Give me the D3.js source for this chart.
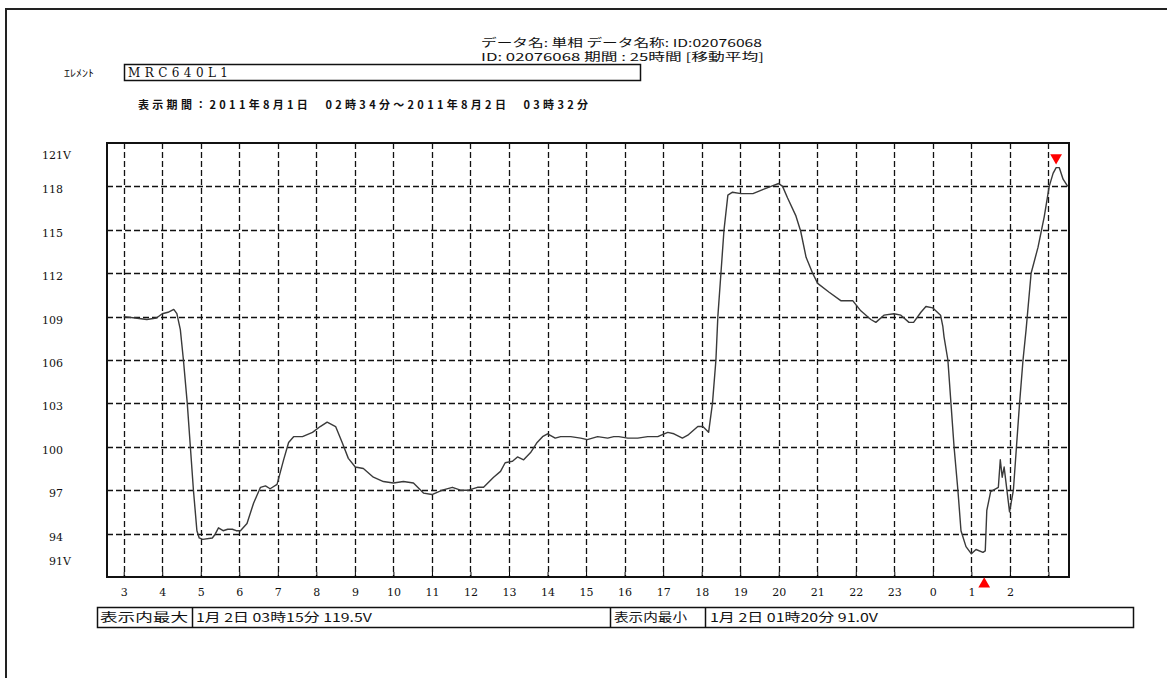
<!DOCTYPE html>
<html>
<head>
<meta charset="utf-8">
<script src="https://cdn.jsdelivr.net/npm/d3@7"></script>
<style>
  body { margin: 0; background: #fff; }
  svg text { fill: #111; }
  .jp { font-family: "Noto Sans CJK JP", sans-serif; }
  .num { font-family: "DejaVu Serif", "Liberation Serif", serif; }
</style>
</head>
<body>
<div id="chart"></div>
<script>
// hours since 2011-08-01 00:00 (values past 24 fall on 8/2)
var hours = [3.00, 3.30, 3.60, 3.85, 4.00, 4.15, 4.30, 4.38, 4.47, 4.55, 4.65, 4.73, 4.81, 4.90, 4.96,
  5.05, 5.30, 5.36, 5.46, 5.58, 5.70, 5.82, 5.92, 6.03, 6.20, 6.37, 6.55, 6.68, 6.80, 6.98,
  7.15, 7.28, 7.41, 7.64, 7.90, 8.10, 8.28, 8.50, 8.67, 8.83, 9.01, 9.22, 9.48, 9.74, 10.00,
  10.26, 10.52, 10.78, 11.00, 11.27, 11.53, 11.74, 11.95, 12.18, 12.34, 12.60, 12.78, 12.90, 13.09, 13.22,
  13.38, 13.56, 13.73, 13.87, 14.00, 14.20, 14.34, 14.60, 14.86, 15.03, 15.30, 15.56, 15.72, 15.85, 16.08,
  16.34, 16.60, 16.86, 17.12, 17.28, 17.50, 17.64, 17.90, 18.03, 18.18, 18.28, 18.37, 18.42, 18.50, 18.58,
  18.68, 18.80, 19.02, 19.33, 19.60, 19.80, 20.00, 20.10, 20.23, 20.44, 20.57, 20.71, 20.88, 21.01, 21.30,
  21.61, 21.92, 22.13, 22.39, 22.52, 22.73, 22.99, 23.17, 23.38, 23.50, 23.69, 23.82, 24.00, 24.20, 24.26,
  24.29, 24.39, 24.47, 24.55, 24.65, 24.73, 24.86, 25.00, 25.12, 25.30, 25.36, 25.40, 25.50, 25.70, 25.75,
  25.80, 25.85, 25.99, 26.09, 26.17, 26.25, 26.34, 26.42, 26.55, 26.73, 26.89, 27.02, 27.12, 27.20, 27.28,
  27.38, 27.50];
var volts = [109.0, 108.9, 108.8, 108.9, 109.2, 109.3, 109.5, 109.2, 108.1, 106.0, 103.0, 100.0, 97.0, 94.2, 93.7,
  93.6, 93.7, 93.9, 94.4, 94.2, 94.3, 94.3, 94.2, 94.2, 94.7, 96.1, 97.2, 97.3, 97.1, 97.4,
  99.1, 100.3, 100.7, 100.7, 101.0, 101.4, 101.7, 101.4, 100.3, 99.2, 98.6, 98.5, 97.9, 97.6, 97.5,
  97.6, 97.5, 96.8, 96.7, 97.0, 97.2, 97.0, 97.0, 97.2, 97.2, 97.9, 98.3, 98.9, 99.0, 99.3,
  99.1, 99.6, 100.3, 100.7, 100.9, 100.6, 100.7, 100.7, 100.6, 100.5, 100.7, 100.6, 100.7, 100.7, 100.6,
  100.6, 100.7, 100.7, 101.0, 100.9, 100.6, 100.8, 101.4, 101.4, 101.0, 103.0, 106.0, 109.0, 112.0, 115.0,
  117.4, 117.6, 117.5, 117.5, 117.8, 118.0, 118.2, 118.0, 117.2, 116.0, 114.9, 113.1, 112.0, 111.3, 110.7,
  110.1, 110.1, 109.4, 108.8, 108.6, 109.1, 109.2, 109.1, 108.6, 108.6, 109.3, 109.7, 109.6, 109.1, 108.3,
  107.6, 106.0, 103.0, 100.0, 97.0, 94.2, 93.1, 92.6, 92.9, 92.7, 92.8, 95.6, 96.9, 97.2, 99.1,
  97.9, 98.6, 95.5, 97.0, 100.0, 103.0, 106.0, 108.1, 112.0, 113.8, 115.9, 118.0, 118.9, 119.3, 119.3,
  118.5, 118.0];

var yTicks = [91, 94, 97, 100, 103, 106, 109, 112, 115, 118, 121];
var hourTicks = [3, 4, 5, 6, 7, 8, 9, 10, 11, 12, 13, 14, 15, 16, 17, 18, 19, 20, 21, 22, 23, 24, 25, 26, 27];

var headerLine1 = "データ名: 単相 データ名称: ID:02076068";
var headerLine2 = "ID: 02076068 期間 : 25時間 [移動平均]";
var elementLabel = "ｴﾚﾒﾝﾄ";
var elementName = "MRC640L1";
var periodText = "表示期間：2011年8月1日　02時34分～2011年8月2日　03時32分";
var maxLabel = "表示内最大", maxText = "1月 2日 03時15分 119.5V", maxHour = 27.25, maxVolt = 119.5;
var minLabel = "表示内最小", minText = "1月 2日 01時20分 91.0V", minHour = 25.333, minVolt = 91.0;

var svgWidth = 1167, svgHeight = 678;
var plot = { left: 107, top: 143, right: 1069, bottom: 577 };

var base = new Date(2011, 7, 1, 0, 0);
function toDate(h) { return new Date(base.getTime() + h * 3600 * 1000); }

var data = hours.map(function(h, i) { return { t: toDate(h), v: volts[i] }; });

var svg = d3.select("#chart").append("svg")
  .attr("width", svgWidth)
  .attr("height", svgHeight);

var x = d3.scaleTime()
  .domain([new Date(2011, 7, 1, 2, 34), new Date(2011, 7, 2, 3, 32)])
  .range([plot.left, plot.right]);
var y = d3.scaleLinear()
  .domain([91, 121])
  .range([plot.bottom, plot.top]);

// page frame (top + left edges only)
svg.append("path")
  .attr("d", "M6,678V9H1167")
  .attr("fill", "none")
  .attr("stroke", "#222")
  .attr("stroke-width", 2);

// header
svg.append("text").attr("class", "jp").attr("x", 481).attr("y", 47)
  .attr("font-size", 11).attr("textLength", 281).attr("lengthAdjust", "spacingAndGlyphs")
  .text(headerLine1);
svg.append("text").attr("class", "jp").attr("x", 481).attr("y", 61)
  .attr("font-size", 11).attr("textLength", 283).attr("lengthAdjust", "spacingAndGlyphs")
  .text(headerLine2);
svg.append("text").attr("class", "jp").attr("x", 64).attr("y", 77)
  .attr("font-size", 10).attr("textLength", 30).attr("lengthAdjust", "spacingAndGlyphs")
  .text(elementLabel);
svg.append("rect").attr("x", 124.5).attr("y", 64.5).attr("width", 516).attr("height", 16)
  .attr("fill", "none").attr("stroke", "#111").attr("stroke-width", 1.5);
svg.append("text").attr("class", "num").attr("x", 128).attr("y", 77)
  .attr("font-size", 12).attr("textLength", 100).attr("lengthAdjust", "spacing")
  .text(elementName);
svg.append("text").attr("class", "jp").attr("x", 138).attr("y", 109)
  .attr("font-size", 11).attr("font-weight", "bold")
  .attr("textLength", 450).attr("lengthAdjust", "spacing")
  .text(periodText);

// grid
var grid = svg.append("g")
  .attr("stroke", "#111")
  .attr("stroke-width", 1.3)
  .attr("stroke-dasharray", "6,3");
grid.selectAll("line.h")
  .data(yTicks.filter(function(v) { return v > 91 && v < 121; }))
  .enter().append("line")
  .attr("x1", plot.left).attr("x2", plot.right)
  .attr("y1", function(d) { return Math.round(y(d)) + 0.5; })
  .attr("y2", function(d) { return Math.round(y(d)) + 0.5; });
grid.selectAll("line.v")
  .data(hourTicks)
  .enter().append("line")
  .attr("x1", function(d) { return Math.round(x(toDate(d))) + 0.5; })
  .attr("x2", function(d) { return Math.round(x(toDate(d))) + 0.5; })
  .attr("y1", plot.top).attr("y2", plot.bottom);

// bottom axis
var bottomAxis = d3.axisBottom(x)
  .tickValues(hourTicks.map(toDate))
  .tickSize(-5)
  .tickPadding(11)
  .tickFormat(function(d, i) { return i === hourTicks.length - 1 ? "" : d3.timeFormat("%-H")(d); });
var xAxis = svg.append("g")
  .attr("transform", "translate(0," + plot.bottom + ")")
  .call(bottomAxis);
xAxis.select(".domain").remove();
xAxis.selectAll("text").attr("class", "num").attr("font-size", 11).attr("fill", "#111");

// y labels
svg.selectAll("text.ylab")
  .data(yTicks)
  .enter().append("text")
  .attr("class", "num ylab")
  .attr("x", function(d) { return 63 - String(d).length * 7; })
  .attr("y", function(d) { return y(d) + (d === 121 ? 16 : d === 91 ? -12 : 7); })
  .attr("font-size", 11)
  .text(function(d) { return d === 121 || d === 91 ? d + "V" : d; });

// data line
var line = d3.line()
  .x(function(d) { return x(d.t); })
  .y(function(d) { return y(d.v); })
  .curve(d3.curveLinear);
svg.append("path")
  .datum(data)
  .attr("d", line)
  .attr("fill", "none")
  .attr("stroke", "#3a3a3a")
  .attr("stroke-width", 1.4)
  .attr("stroke-linejoin", "round");

// plot frame
svg.append("rect")
  .attr("x", plot.left).attr("y", plot.top)
  .attr("width", plot.right - plot.left).attr("height", plot.bottom - plot.top)
  .attr("fill", "none").attr("stroke", "#111").attr("stroke-width", 2);

// max / min markers
svg.append("path")
  .attr("d", d3.symbol(d3.symbolTriangle, 60))
  .attr("transform", "translate(" + (x(toDate(maxHour)) - 2) + "," + (y(maxVolt) - 7) + ") rotate(180)")
  .attr("fill", "#f00");
svg.append("path")
  .attr("d", d3.symbol(d3.symbolTriangle, 60))
  .attr("transform", "translate(" + x(toDate(minHour)) + "," + (y(minVolt) + 7) + ")")
  .attr("fill", "#f00");

// summary table
var table = svg.append("g");
var cells = [97, 192, 610, 705, 1133];
table.append("rect").attr("x", cells[0] + 0.5).attr("y", 607.5)
  .attr("width", cells[4] - cells[0]).attr("height", 20)
  .attr("fill", "none").attr("stroke", "#111").attr("stroke-width", 1.5);
cells.slice(1, 4).forEach(function(cx) {
  table.append("line").attr("x1", cx + 0.5).attr("x2", cx + 0.5)
    .attr("y1", 607.5).attr("y2", 627.5).attr("stroke", "#111").attr("stroke-width", 1.5);
});
var tableTexts = [
  { x: 100, w: 88, s: maxLabel },
  { x: 196, w: 176, s: maxText },
  { x: 614, w: 73, s: minLabel },
  { x: 710, w: 168, s: minText }
];
table.selectAll("text")
  .data(tableTexts)
  .enter().append("text")
  .attr("class", "jp")
  .attr("x", function(d) { return d.x; })
  .attr("y", 622)
  .attr("font-size", 12)
  .attr("textLength", function(d) { return d.w; })
  .attr("lengthAdjust", "spacingAndGlyphs")
  .text(function(d) { return d.s; });
</script>
</body>
</html>
